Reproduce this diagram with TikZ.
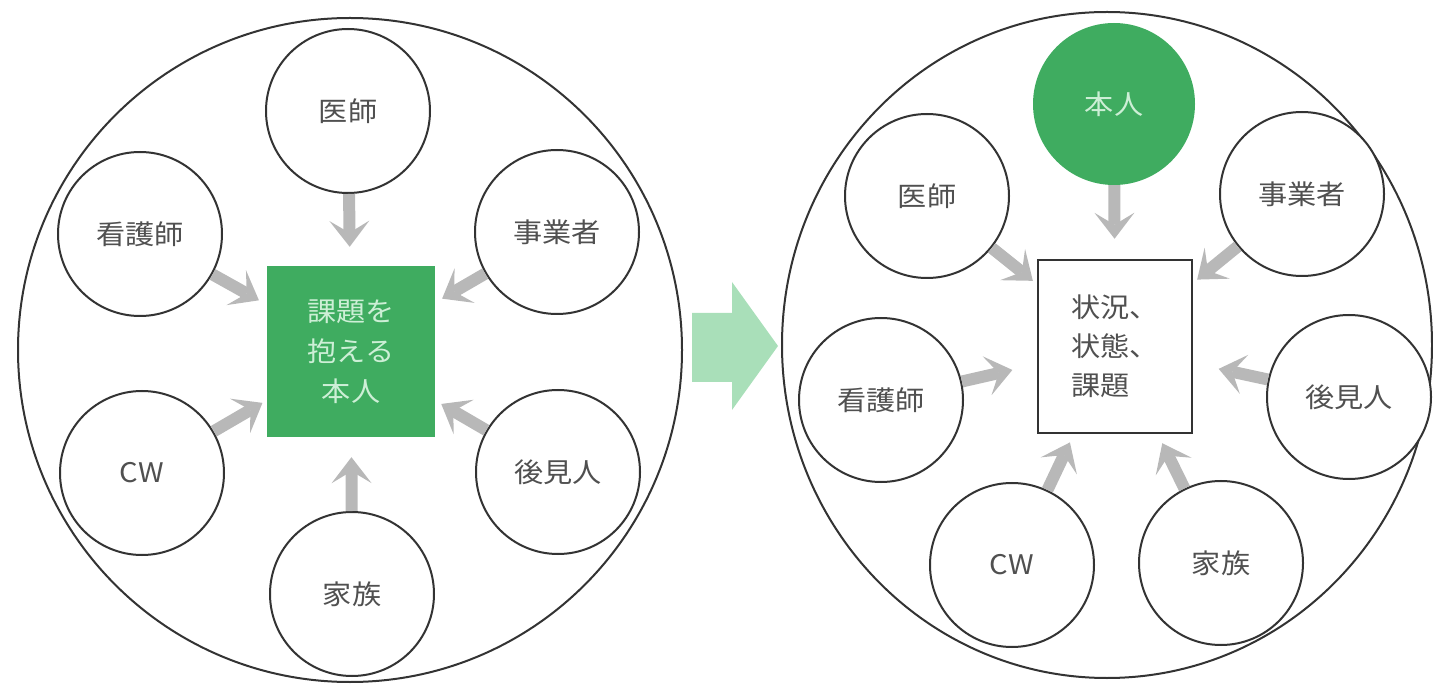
\documentclass[tikz,border=0pt]{standalone}
\usepackage{fontspec}
\setmainfont{Noto Sans CJK JP}[FakeStretch=1.08]
\usetikzlibrary{arrows.meta,shapes.geometric}
\definecolor{grn}{HTML}{3FAC60}
\definecolor{lgtext}{HTML}{CDEFD6}
\definecolor{lgarrow}{HTML}{A9DFB9}
\definecolor{arrgray}{HTML}{B8B8B8}
\definecolor{labgray}{HTML}{505050}
\definecolor{edge}{HTML}{333333}
\begin{document}
\begin{tikzpicture}[x=1pt,y=-1pt,
  bigc/.style={draw=edge, line width=2pt, circle, inner sep=0pt},
  member/.style={draw=edge, line width=2pt, circle, fill=white, minimum size=164pt, inner sep=0pt, text=labgray, font=\fontsize{27}{32}\selectfont},
  garrow/.style={draw=arrgray, line width=12pt, -{Stealth[length=26pt,width=40pt,inset=12pt,line width=0pt]}},
  greensq/.style={fill=grn, inner sep=0pt, text=lgtext, align=center, font=\fontsize{27}{40}\selectfont},
  whitesq/.style={draw=edge, line width=2.5pt, fill=white, inner sep=0pt, text=labgray, align=left, font=\fontsize{27}{39}\selectfont},
]
\useasboundingbox (0,0) rectangle (1433,684);

% ---------- left panel ----------
\node[bigc, minimum size=664pt] (L) at (350,350) {};
\node[member] (Lishi) at (348,111) {医師};
\node[member] (Lkango) at (140,234) {看護師};
\node[member] (Ljig) at (557,232) {事業者};
\node[member] (Lcw) at (142,473) {CW};
\node[member] (Lkoken) at (558,472) {後見人};
\node[member] (Lkazoku) at (352,594) {家族};
\node[greensq, minimum width=168pt, minimum height=171pt] (Lsq) at (351,351.5) {課題を\\抱える\\本人};

\draw[garrow, shorten >=19pt] (Lishi) -- (Lsq);
\draw[garrow, shorten >=9pt] (Lkango) -- (Lsq);
\draw[garrow, shorten >=8pt] (Ljig) -- (Lsq);
\draw[garrow, shorten >=5pt] (Lcw) -- (Lsq);
\draw[garrow, shorten >=7pt] (Lkoken) -- (Lsq);
\draw[garrow, shorten >=20pt] (Lkazoku) -- (Lsq);

% ---------- transition arrow ----------
\fill[lgarrow] (692,313) -- (732,313) -- (732,282) -- (778,346) -- (732,410) -- (732,382) -- (692,382) -- cycle;

% ---------- right panel ----------
\node[bigc, ellipse, minimum width=650pt, minimum height=666pt] (R) at (1107,345) {};
\node[circle, fill=grn, minimum size=162pt, inner sep=0pt, text=lgtext, font=\fontsize{27}{32}\selectfont] (Rhonin) at (1114,104) {本人};
\node[member] (Rishi) at (927,196) {医師};
\node[member] (Rjig) at (1302,194) {事業者};
\node[member] (Rkango) at (881,400) {看護師};
\node[member] (Rkoken) at (1349,397) {後見人};
\node[member] (Rcw) at (1012,565) {CW};
\node[member] (Rkazoku) at (1221,563) {家族};
\node[whitesq, minimum width=154pt, minimum height=173pt] (Rsq) at (1115,346.5) {状況、\\状態、\\課題};

\draw[garrow, shorten >=20pt] (Rhonin) -- (Rsq);
\draw[garrow, shorten >=5pt] (Rishi) -- (Rsq);
\draw[garrow, shorten >=5pt] (Rjig) -- (Rsq);
\draw[garrow, shorten >=25pt] (Rkango) -- (Rsq);
\draw[garrow, shorten >=26pt] (Rkoken) -- (Rsq);
\draw[garrow, shorten >=9pt] (Rcw) -- (Rsq);
\draw[garrow, shorten >=10pt] (Rkazoku) -- (Rsq);
\end{tikzpicture}
\end{document}
